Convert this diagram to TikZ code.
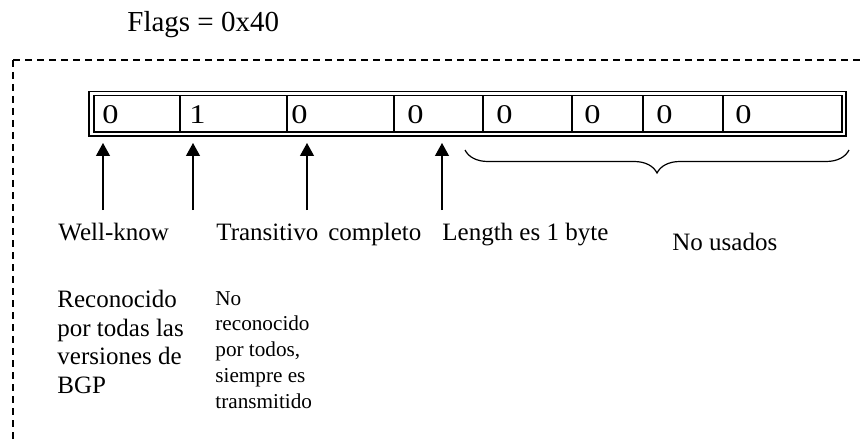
\documentclass[tikz,border=0pt]{standalone}
\usepackage{fontspec}
\setmainfont{Liberation Serif}
\usetikzlibrary{arrows.meta,decorations.pathreplacing}
\begin{document}
\begin{tikzpicture}[x=0.5pt,y=-0.5pt,
  boxline/.style={line width=0.65pt},
  frameline/.style={line width=0.75pt,dash pattern=on 3.5pt off 2.5pt},
  uparrow/.style={line width=0.6pt,-{Triangle[width=7pt,length=6.5pt]}},
  txt/.style={inner sep=0pt,anchor=base west,font=\fontsize{12.5}{14.2}\selectfont},
  smalltxt/.style={inner sep=0pt,anchor=base west,align=left,font=\fontsize{10.6}{12.9}\selectfont},
  bigtxt/.style={inner sep=0pt,anchor=base west,align=left,font=\fontsize{12.5}{14.17}\selectfont},
  digit/.style={inner sep=0pt,anchor=base west,font=\fontsize{13.5}{15}\selectfont}]
\useasboundingbox (0,0) rectangle (860,443);
% title
\node[inner sep=0pt,anchor=base west,font=\fontsize{14.5}{16}\selectfont] (title) at (127,32) {Flags = 0x40};
% dashed frame
\coordinate (fc) at (13,60);
\coordinate (fr) at (861,60);
\coordinate (fb) at (13,444);
\draw[frameline] (fc) -- (fr);
\draw[frameline] (fc) -- (fb);
% register box
\draw[boxline] (89,91.3) rectangle (846,136);
\draw[boxline] (94,95.3) rectangle (842,132);
\foreach \x in {180,287,394,483,572,643,723}
  \draw[boxline] (\x,95.3) -- (\x,132);
% digits
\node[digit] (d1) at (102,124) {\scalebox{1.2}[1]{0}};
\node[digit] (d2) at (189,124) {\scalebox{1.2}[1]{1}};
\node[digit] (d3) at (291,124) {\scalebox{1.2}[1]{0}};
\node[digit] (d4) at (407,124) {\scalebox{1.2}[1]{0}};
\node[digit] (d5) at (496,124) {\scalebox{1.2}[1]{0}};
\node[digit] (d6) at (584,124) {\scalebox{1.2}[1]{0}};
\node[digit] (d7) at (656,124) {\scalebox{1.2}[1]{0}};
\node[digit] (d8) at (735,124) {\scalebox{1.2}[1]{0}};
% arrows
\coordinate (a1s) at (103,210); \coordinate (a1e) at (103,143);
\coordinate (a2s) at (193,210); \coordinate (a2e) at (193,143);
\coordinate (a3s) at (307,210); \coordinate (a3e) at (307,143);
\coordinate (a4s) at (442,210); \coordinate (a4e) at (442,143);
\draw[uparrow] (a1s) -- (a1e);
\draw[uparrow] (a2s) -- (a2e);
\draw[uparrow] (a3s) -- (a3e);
\draw[uparrow] (a4s) -- (a4e);
% brace
\coordinate (bl) at (465,150);
\coordinate (br) at (849,150);
\draw[line width=0.6pt,decorate,decoration={brace,mirror,amplitude=11.5pt}] (bl) -- (br);
% labels
\node[txt] (wk) at (58,240) {Well-know};
\node[txt] (tc) at (216,240) {Transitivo\hspace{0.15em} completo};
\node[txt] (len) at (442,240) {Length es 1 byte};
\node[txt] (nu) at (672,250) {No usados};
\node[bigtxt] (rec) at (57,393) {Reconocido\\por todas las\\versiones de\\BGP};
\node[smalltxt] (norec) at (215,408.2) {No\\reconocido\\por todos,\\siempre es\\transmitido};
\end{tikzpicture}
\end{document}
